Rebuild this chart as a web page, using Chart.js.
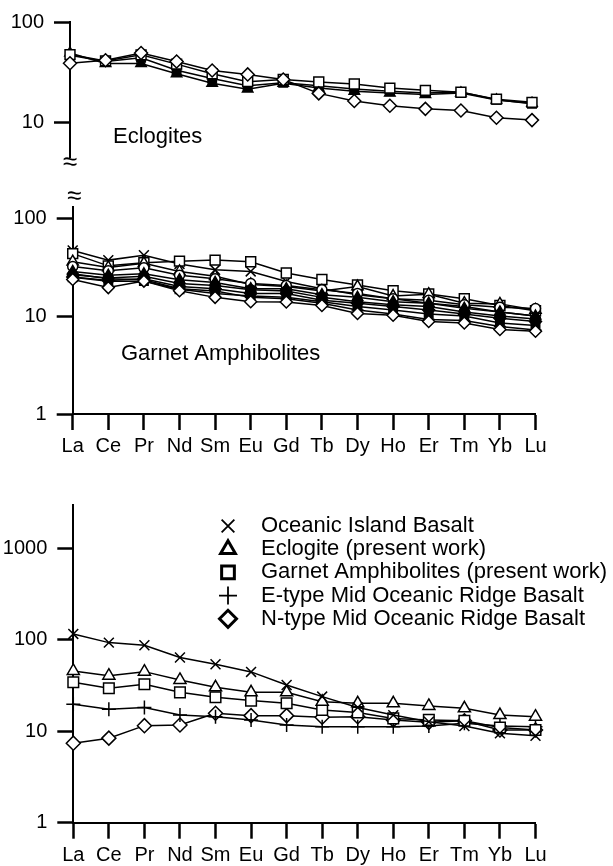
<!DOCTYPE html>
<html lang="en">
<head>
  <meta charset="UTF-8">
  <title>REE patterns</title>
  <!-- Chart.js -->
  <script src="https://cdn.jsdelivr.net/npm/chart.js"></script>
  <style>
    body {
      margin: 0;
      background: #fff;
      width: 613px;
      height: 866px;
      position: relative;
      overflow: hidden;
    }
    canvas {
      position: absolute;
      left: 0;
    }
    #eclChart { top: 0; }
    #amphChart { top: 185px; }
    #compChart { top: 480px; }
  </style>
</head>
<body>

<canvas id="eclChart" width="613" height="190"></canvas>
<canvas id="amphChart" width="613" height="275"></canvas>
<canvas id="compChart" width="613" height="386"></canvas>

<script>
  // Chondrite-normalised REE
  var elements = ['La', 'Ce', 'Pr', 'Nd', 'Sm', 'Eu', 'Gd', 'Tb', 'Dy', 'Ho', 'Er', 'Tm', 'Yb', 'Lu'];

  var eclTicks = [10, 100];
  var amphTicks = [1, 10, 100];
  var compTicks = [1, 10, 100, 1000];

  // Eclogites
  var eclDiamond = [38.8, 41.5, 49, 40.3, 32.8, 30, 26.7, 19.4, 16.3, 14.6, 13.6, 13.1, 11.1, 10.5];
  var eclSquare = [47.3, 40.9, 47, 38, 30.5, 25.4, 26.7, 25.2, 24.1, 21.9, 20.8, 19.9, 17.0, 15.8];
  var eclTriangle = [49, 38.5, 38.5, 30.5, 24.5, 21.4, 24.5, 21.9, 20.4, 19.6, 18.9, 19.6, 16.7, 15.5];
  var eclFilledSq = [46.6, 40.3, 44, 33, 27.3, 23.1, 24.8, 23.1, 21.4, 20.4, 19.6, 20, 16.8, 15.3];

  // Garnet amphibolites
  var amphCross = [46.7, 37.2, 41.7, 34, 29.6, 28.5, 22.5, 19, 16.5, 15, 13.5, 12.5, 11, 10];
  var amphSquare = [43.3, 32.5, 35, 36.3, 37.2, 35.8, 27.5, 23.6, 20.7, 18.1, 16.8, 15, 12.8, 11.3];
  var amphTriangle = [35.8, 31.3, 34.5, 28.5, 25.5, 21, 20, 18, 20, 16, 16.7, 13.5, 13.3, 11.5];
  var amphCircle = [32, 29, 31, 26, 24, 21.5, 20.5, 18.5, 17, 15, 14.5, 13, 12.3, 11.9];
  var amphFilledTri = [28.5, 26, 27, 23.5, 22, 19, 19, 16.5, 15.5, 14, 13.5, 12, 11, 10];
  var amphFilledCirc = [26.4, 24.5, 25.5, 21.5, 20.5, 18.5, 18, 15.5, 14, 13, 12.5, 11, 10, 9.3];
  var amphFilledDia = [25, 23, 24, 20, 19, 17, 17, 14.5, 13.5, 12.5, 11.5, 10.5, 9.5, 8.8];
  var amphFilledSq = [24.9, 22.7, 22.7, 18.8, 17, 16, 15.5, 14, 12.5, 11.5, 10.5, 10, 8.5, 8];
  var amphPlus = [27, 24, 23.5, 19, 18, 15.5, 15, 13.5, 11.5, 10.5, 9.2, 9, 7.8, 7.2];
  var amphDiamond = [23.6, 19.5, 22.7, 18.1, 15.5, 14, 13.9, 12.8, 10.6, 10.2, 8.8, 8.5, 7.3, 7];

  // Comparison with oceanic basalts
  var oib = [115.7, 93, 87, 64, 54, 44.5, 32, 23.9, 18.2, 15, 12.7, 11.4, 9.5, 8.9];
  var eclogiteAvg = [45.6, 40.5, 44.8, 36.3, 30.2, 26.6, 26.6, 21, 20.2, 20.2, 18.9, 17.8, 15, 14.4];
  var amphAvg = [34.3, 29.5, 32.6, 26.6, 23.5, 21.6, 20.2, 17.1, 16, 13.8, 13.3, 13, 11, 10.3];
  var emorb = [19.7, 17.4, 18.2, 15, 14.4, 13.3, 11.7, 11.2, 11.2, 11.2, 11.4, 12.2, 11.4, 11.2];
  var nmorb = [7.4, 8.4, 11.5, 11.7, 15.7, 14.8, 14.8, 14.2, 14.4, 13.3, 12.5, 13, 10.3, 10.3];
  var legendLabels = ['Oceanic Island Basalt', 'Eclogite (present work)', 'Garnet Amphibolites (present work)',
    'E-type Mid Oceanic Ridge Basalt', 'N-type Mid Oceanic Ridge Basalt'];

  var fontFamily = "'Liberation Sans', Arial, Helvetica, sans-serif";
  Chart.defaults.font.family = fontFamily;
  Chart.defaults.color = '#000';

  function series(label, data, style, filled, radius) {
    return {
      label: label,
      data: data,
      borderColor: '#000',
      borderWidth: 1.5,
      pointStyle: style,
      pointRadius: radius,
      pointBackgroundColor: filled ? '#000' : '#fff',
      pointBorderColor: '#000',
      pointBorderWidth: 1.5,
      tension: 0,
      fill: false
    };
  }

  function yAxis(min, max, ticks, width) {
    return {
      type: 'logarithmic',
      min: min,
      max: max,
      afterBuildTicks: function(s) { s.ticks = ticks.map(function(v) { return { value: v }; }); },
      afterFit: function(s) { s.width = width; },
      border: { color: '#000', width: 2 },
      grid: { drawOnChartArea: false, tickLength: 16, tickWidth: 2.5, tickColor: '#000' },
      ticks: { color: '#000', padding: 10, font: { size: 20 }, callback: function(v) { return String(v); } }
    };
  }

  function xAxis(show, height) {
    return {
      type: 'category',
      offset: false,
      display: show,
      afterFit: function(s) { s.height = height; },
      border: { color: '#000', width: 2 },
      grid: { drawOnChartArea: false, tickLength: 16, tickWidth: 2.5, tickColor: '#000' },
      ticks: { color: '#000', padding: 4.5, font: { size: 20 }, maxRotation: 0, autoSkip: false }
    };
  }

  // panel captions and axis break marks
  var notesPlugin = {
    id: 'notes',
    afterDraw: function(chart, args, opts) {
      var ctx = chart.ctx;
      var area = chart.chartArea;
      ctx.save();
      ctx.fillStyle = '#000';
      ctx.textBaseline = 'middle';
      (opts.texts || []).forEach(function(t) {
        ctx.font = t.size + 'px ' + fontFamily;
        ctx.textAlign = 'left';
        ctx.fillText(t.text, t.x, t.y);
      });
      (opts.breaks || []).forEach(function(b) {
        ctx.font = '26px ' + fontFamily;
        ctx.textAlign = 'center';
        ctx.fillText('\u2248', area.left + (b.dx || 0), b.y);
      });
      ctx.restore();
    }
  };

  // legend in the upper right of the lower panel; markers drawn larger than in the plot
  var legendPlugin = {
    id: 'refLegend',
    afterDraw: function(chart, args, opts) {
      if (!opts.show) return;
      var ctx = chart.ctx;
      ctx.save();
      chart.data.datasets.forEach(function(ds, i) {
        var y = opts.y + i * opts.step;
        var thin = ds.pointStyle === 'cross' || ds.pointStyle === 'crossRot';
        var lw = thin ? 1.8 : 3;
        ctx.strokeStyle = '#000';
        ctx.fillStyle = '#fff';
        ctx.lineWidth = lw;
        Chart.helpers.drawPoint(ctx, { pointStyle: ds.pointStyle, radius: opts.radius[i], rotation: 0, borderWidth: lw }, opts.markerX, y);
        ctx.fillStyle = '#000';
        ctx.font = '22px ' + fontFamily;
        ctx.textAlign = 'left';
        ctx.textBaseline = 'middle';
        ctx.fillText(ds.label, opts.textX, y);
      });
      ctx.restore();
    }
  };

  // Eclogites
  new Chart(document.getElementById('eclChart'), {
    type: 'line',
    data: {
      labels: elements,
      datasets: [
        series('eclogite 1', eclDiamond, 'rectRot', false, 6.5),
        series('eclogite 2', eclSquare, 'rect', false, 7),
        series('eclogite 3', eclTriangle, 'triangle', true, 6),
        series('eclogite 4', eclFilledSq, 'rect', true, 6)
      ]
    },
    options: {
      responsive: false,
      animation: false,
      layout: { padding: { top: 16, bottom: 33, left: 0, right: 81 } },
      scales: { x: xAxis(false, 0), y: yAxis(4.5, 100, eclTicks, 70) },
      plugins: {
        legend: { display: false },
        tooltip: { enabled: false },
        notes: { texts: [{ text: 'Eclogites', x: 113, y: 137, size: 22 }], breaks: [{ y: 163 }] }
      }
    },
    plugins: [notesPlugin]
  });

  // Garnet amphibolites
  new Chart(document.getElementById('amphChart'), {
    type: 'line',
    data: {
      labels: elements,
      datasets: [
        series('ga 10', amphDiamond, 'rectRot', false, 6),
        series('ga 9', amphPlus, 'cross', false, 6),
        series('ga 8', amphFilledSq, 'rect', true, 6),
        series('ga 7', amphFilledDia, 'rectRot', true, 6),
        series('ga 6', amphFilledCirc, 'circle', true, 5),
        series('ga 5', amphFilledTri, 'triangle', true, 6),
        series('ga 4', amphCircle, 'circle', false, 5),
        series('ga 3', amphTriangle, 'triangle', false, 6.5),
        series('ga 2', amphSquare, 'rect', false, 7),
        series('ga 1', amphCross, 'crossRot', false, 7)
      ]
    },
    options: {
      responsive: false,
      animation: false,
      layout: { padding: { top: 17, bottom: 0, left: 0, right: 77.5 } },
      scales: { x: xAxis(true, 46), y: yAxis(1, 129.6, amphTicks, 72.7) },
      plugins: {
        legend: { display: false },
        tooltip: { enabled: false },
        notes: { texts: [{ text: 'Garnet Amphibolites', x: 121, y: 169, size: 22 }], breaks: [{ y: 11.7, dx: 1.5 }] }
      }
    },
    plugins: [notesPlugin]
  });

  // Comparison
  new Chart(document.getElementById('compChart'), {
    type: 'line',
    data: {
      labels: elements,
      datasets: [
        series(legendLabels[0], oib, 'crossRot', false, 7),
        series(legendLabels[1], eclogiteAvg, 'triangle', false, 7),
        series(legendLabels[2], amphAvg, 'rect', false, 7.5),
        series(legendLabels[3], emorb, 'cross', false, 7),
        series(legendLabels[4], nmorb, 'rectRot', false, 7)
      ]
    },
    options: {
      responsive: false,
      animation: false,
      layout: { padding: { top: 25, bottom: 0, left: 0, right: 77.5 } },
      scales: { x: xAxis(true, 43.3), y: yAxis(1, 2970, compTicks, 73.3) },
      plugins: {
        legend: { display: false },
        tooltip: { enabled: false },
        refLegend: { show: true, markerX: 228, textX: 261, y: 46, step: 23.2, radius: [9, 8.5, 9, 9, 8.5] }
      }
    },
    plugins: [legendPlugin]
  });
</script>

</body>
</html>
